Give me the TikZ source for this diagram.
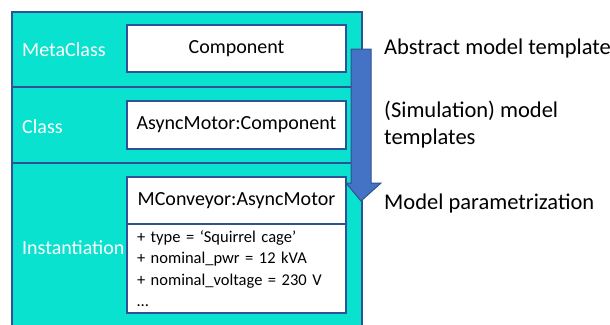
\documentclass[tikz,border=0pt]{standalone}
\usepackage{fontspec}
\setmainfont{Carlito}
\usetikzlibrary{positioning}

\definecolor{layerfill}{RGB}{10,226,208}
\definecolor{layerline}{RGB}{47,82,150}
\definecolor{flowfill}{RGB}{68,114,196}
\definecolor{flowline}{RGB}{47,82,143}

\tikzset{
  layer/.style={rectangle,draw=layerline,fill=layerfill,line width=2.4pt,minimum width=350pt,inner sep=0pt},
  layername/.style={anchor=west,text=white,font=\fontsize{20}{24}\selectfont,inner sep=0pt},
  slot/.style={rectangle,draw=layerline,fill=white,line width=2.2pt,minimum width=219pt,inner sep=0pt,font=\fontsize{20}{24}\selectfont},
  note/.style={anchor=west,align=left,inner sep=0pt,font=\fontsize{22.5}{27}\selectfont}
}

\begin{document}
\begin{tikzpicture}[x=1pt,y=-1pt]
            \useasboundingbox (0,0) rectangle (610,324);
            \fill[white] (0,0) rectangle (610,324);

            % layers
            \node [layer,minimum height=75pt] (meta) at (187,49.5) {};
            \node [layer,minimum height=76pt] (cls) at (187,125) {};
            \node [layer,minimum height=170pt] (inst) at (187,248) {};

            \node [layername] (metaname) at (22,50) {MetaClass};
            \node [layername] (clsname) at (22,127) {Class};
            \node [layername] (instname) at (22,248) {Instantiation};

            % classes
            \node [slot,minimum height=47pt] (component) at (236.5,48.5) {Component};
            \node [slot,minimum height=48pt] (motor) at (236.5,125) {AsyncMotor:Component};
            \node [slot,minimum height=47pt] (conveyor) at (236.5,200.5) {MConveyor:AsyncMotor};
            \node [slot,minimum height=89pt,align=left,text width=199pt,
                   font=\fontsize{16.5}{21.3}\selectfont] (attrs) at (236.5,268.5)
                  {+ type = ‘Squirrel cage’\\+ nominal\_pwr = 12 kVA\\+ nominal\_voltage = 230 V\\\ldots};

            % arrow
            \filldraw[fill=flowfill,draw=flowline,line width=1pt]
            (351,49) -- (371,49) -- (371,183) -- (381,183) -- (361,201)
            -- (346,183) -- (351,183) -- cycle;

            \node [note] (abstract) at (384,49) {Abstract model template};
            \node [note] (templates) at (384,125) {(Simulation) model\\templates};
            \node [note] (param) at (384,203) {Model parametrization};

        \end{tikzpicture}
\end{document}
